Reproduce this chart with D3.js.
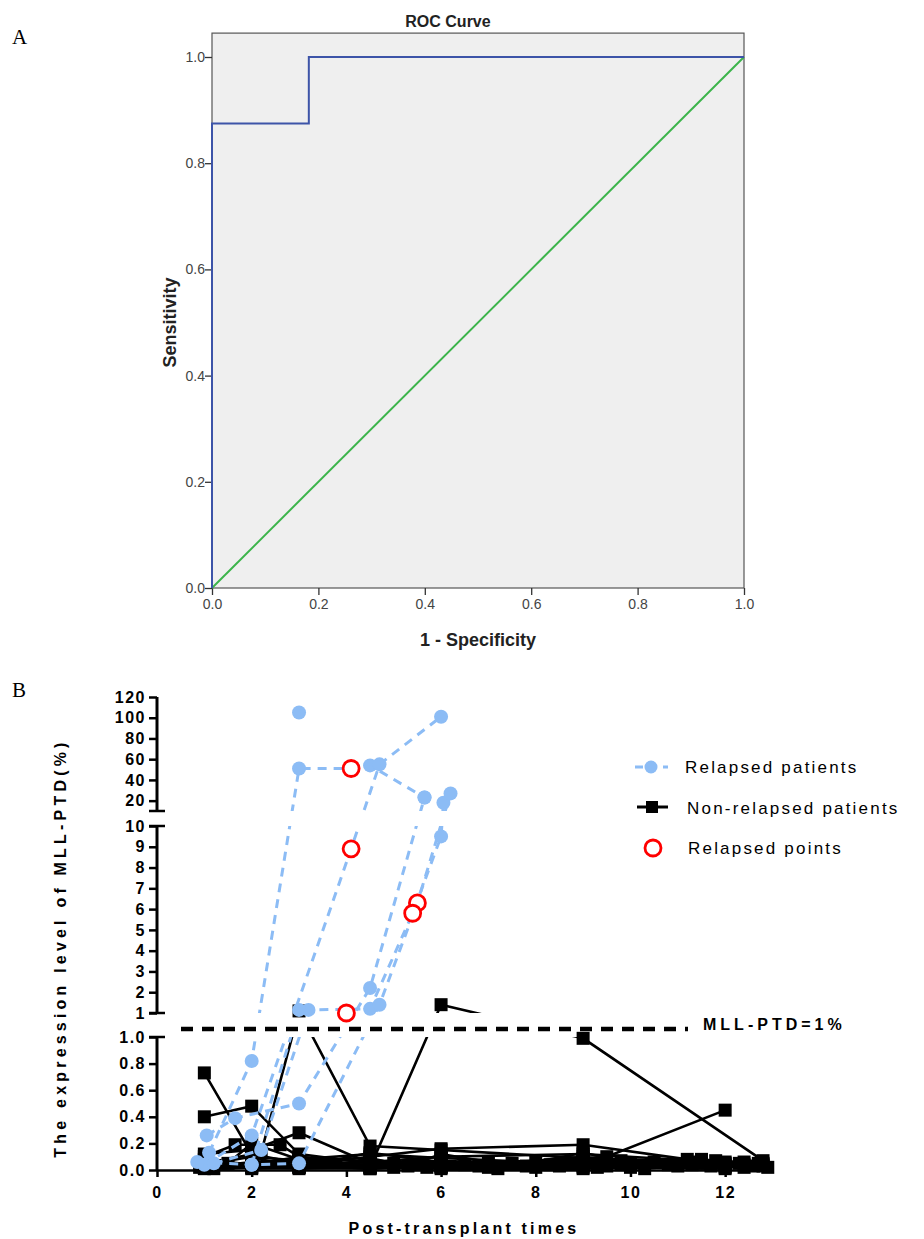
<!DOCTYPE html>
<html>
<head>
<meta charset="utf-8">
<script src="https://cdn.jsdelivr.net/npm/d3@7/dist/d3.min.js"></script>
<style>
  body { margin: 0; background: #fff; }
  svg { display: block; }
</style>
</head>
<body>
<svg id="fig" width="924" height="1239"></svg>
<script>
// ---- panel A: ROC curve ----
const rocFpr = [0, 0, 0.182, 0.182, 1];
const rocTpr = [0, 0.875, 0.875, 1, 1];
const refFpr = [0, 1];
const refTpr = [0, 1];
const rocTicks = [0, 0.2, 0.4, 0.6, 0.8, 1.0];

// ---- panel B: MLL-PTD follow-up, [month, level %] ----
const r1 = [[1.1, 0.13], [2.0, 0.82], [3.0, 51], [4.1, 51], [4.5, 54], [5.65, 23]];
const r2 = [[1.0, 0.04], [2.0, 0.26], [4.1, 8.9], [4.7, 55], [6.0, 101]];
const r3 = [[1.05, 0.26], [1.65, 0.39], [3.0, 0.5], [4.5, 2.2], [5.65, 23]];
const r4 = [[1.2, 0.05], [2.2, 0.15], [3.2, 1.15], [4.5, 1.2], [5.4, 5.8], [6.0, 9.5], [6.05, 18]];
const r5 = [[0.85, 0.06], [2.0, 0.04], [3.0, 0.05], [4.7, 1.4], [5.5, 6.3], [6.2, 27]];
const r6 = [[2.0, 0.04], [3.0, 1.15]];
const r7 = [[3.0, 105]];
const relapsed = [r1, r2, r3, r4, r5, r6, r7];

const n1 = [[1, 0.73], [2, 0.12], [3, 0.05], [4.5, 0.03], [6, 0.05], [9, 0.04], [12, 0.03]];
const n2 = [[1, 0.40], [2, 0.48], [3, 0.12], [4.5, 0.05], [6, 0.04], [9, 0.06], [11.5, 0.05]];
const n3 = [[1, 0.12], [2, 0.15], [3, 0.28], [4.5, 0.05], [6, 0.06], [9, 0.05], [12.4, 0.04]];
const n4 = [[1, 0.05], [2.2, 0.13], [3, 1.1], [4.5, 0.18], [6, 0.15], [9, 0.09], [12.8, 0.05]];
const n5 = [[1.5, 0.05], [2, 0.2], [3, 0.08], [4.5, 0.02], [6, 1.4], [9, 0.99], [12.8, 0.07]];
const n6 = [[1, 0.03], [2, 0.05], [3, 0.04], [4.5, 0.1], [6, 0.16], [9, 0.19], [11.2, 0.08]];
const n7 = [[2, 0.07], [3, 0.03], [4.5, 0.04], [6, 0.03], [9.5, 0.1], [12, 0.45]];
const n8 = [[1, 0.1], [1.65, 0.19], [2.6, 0.19], [3, 0.1], [4.5, 0.03], [6, 0.02], [9, 0.02], [11.7, 0.03]];
const n9 = [[0.9, 0.02], [2, 0.03], [3, 0.02], [4.5, 0.01], [6, 0.03], [7, 0.02], [9, 0.03], [12, 0.02]];
const n10 = [[1, 0.02], [2, 0.06], [3, 0.06], [4.5, 0.04], [6, 0.02], [8.5, 0.03], [12.4, 0.02]];
const n11 = [[1.2, 0.01], [2, 0.02], [3, 0.01], [4.5, 0.02], [5.5, 0.04], [9, 0.07], [12, 0.06]];
const n12 = [[2, 0.09], [3, 0.03], [4.5, 0.06], [6, 0.1], [9, 0.12], [12.8, 0.04]];
const n13 = [[1, 0.06], [2, 0.01], [3, 0.02], [4.5, 0.07], [6, 0.05], [9.8, 0.04], [11.3, 0.06]];
const n14 = [[1, 0.01], [3, 0.03], [4.5, 0.02], [6, 0.01], [9, 0.01], [10, 0.02], [12, 0.01]];
const n15 = [[1, 0.04], [2, 0.1], [3, 0.07], [4.5, 0.09], [5, 0.05], [6, 0.07], [7.5, 0.05], [9, 0.08], [10.5, 0.06], [12, 0.05], [12.6, 0.03]];
const n16 = [[2, 0.02], [3, 0.08], [4.5, 0.12], [6, 0.09], [8, 0.06], [9, 0.13], [9.8, 0.07], [11.3, 0.04], [12.8, 0.03]];
const n17 = [[1, 0.08], [2, 0.04], [3, 0.1], [4.5, 0.06], [5.3, 0.03], [6, 0.12], [7, 0.06], [8.3, 0.04], [9, 0.05], [11.8, 0.07], [12.4, 0.06]];
const n18 = [[3, 0.04], [4.5, 0.01], [5, 0.02], [6, 0.04], [7.2, 0.01], [8, 0.02], [9.5, 0.03], [10.3, 0.01], [11, 0.03], [12, 0.04], [12.9, 0.02]];
const n19 = [[2, 0.05], [3, 0.02], [4.5, 0.13], [6, 0.06], [6.8, 0.03], [9, 0.1], [10, 0.05], [11.5, 0.08], [12.3, 0.05]];
const n20 = [[4.5, 0.08], [5.7, 0.02], [6.5, 0.04], [7.8, 0.03], [8.8, 0.05], [9.3, 0.02], [10.8, 0.04], [12, 0.03], [12.7, 0.05]];
const nonRelapsed = [n1, n2, n3, n4, n5, n6, n7, n8, n9, n10, n11, n12, n13, n14, n15, n16, n17, n18, n19, n20];

const relapsePoints = [[4.1, 51], [4.1, 8.9], [5.5, 6.3], [5.4, 5.8], [4.0, 1.0]];

const xTicksB = [0, 2, 4, 6, 8, 10, 12];
const yTicksTop = [20, 40, 60, 80, 100, 120];
const yTicksMid = [1, 2, 3, 4, 5, 6, 7, 8, 9, 10];
const yTicksLow = [0, 0.2, 0.4, 0.6, 0.8, 1.0];
const cutoff = 1;

const svg = d3.select("#fig");
const axisFont = "Arial, 'Liberation Sans', sans-serif";

// ================= Panel A =================
const xA = d3.scaleLinear().domain([0, 1]).range([212, 744]);
const yA = d3.scaleLinear().domain([0, 1]).range([588, 57]);

svg.append("text").attr("x", 12).attr("y", 44)
    .attr("font-family", "'Liberation Serif', 'DejaVu Serif', serif")
    .attr("font-size", 21).text("A");

svg.append("rect")
    .attr("x", xA(0)).attr("y", yA(1.045))
    .attr("width", xA(1) - xA(0)).attr("height", yA(0) - yA(1.045))
    .attr("fill", "#efefef").attr("stroke", "#555").attr("stroke-width", 1.2);

svg.append("text").attr("x", 448).attr("y", 27)
    .attr("text-anchor", "middle").attr("font-family", "'Liberation Sans Narrow', " + axisFont)
    .attr("font-weight", "bold").attr("font-size", 16).attr("fill", "#222")
    .text("ROC Curve");

const gAy = svg.append("g").attr("transform", `translate(${xA(0)},0)`)
    .call(d3.axisLeft(yA).tickValues(rocTicks).tickFormat(d3.format(".1f")).tickSize(7).tickSizeOuter(0));
const gAx = svg.append("g").attr("transform", `translate(0,${yA(0)})`)
    .call(d3.axisBottom(xA).tickValues(rocTicks).tickFormat(d3.format(".1f")).tickSize(7).tickSizeOuter(0));
[gAy, gAx].forEach(g => {
    g.select(".domain").remove();
    g.selectAll("line").attr("stroke", "#333").attr("stroke-width", 1.3);
    g.selectAll("text").attr("font-family", axisFont).attr("font-size", 14).attr("fill", "#444");
});
gAy.selectAll("text").attr("x", -7);
gAx.selectAll("text").attr("y", 11);

const lineA = d3.line().x(d => xA(d[0])).y(d => yA(d[1]));
svg.append("path").datum(refFpr.map((f, i) => [f, refTpr[i]]))
    .attr("d", lineA).attr("fill", "none").attr("stroke", "#3cb44b").attr("stroke-width", 2);
svg.append("path").datum(rocFpr.map((f, i) => [f, rocTpr[i]]))
    .attr("d", lineA).attr("fill", "none").attr("stroke", "#3d54a8").attr("stroke-width", 2);

svg.append("text").attr("transform", `translate(176,${yA(0.5)}) rotate(-90)`)
    .attr("text-anchor", "middle").attr("font-family", "'Liberation Sans Narrow', " + axisFont)
    .attr("font-weight", "bold").attr("font-size", 18).attr("fill", "#222").text("Sensitivity");
svg.append("text").attr("x", xA(0.5)).attr("y", 646)
    .attr("text-anchor", "middle").attr("font-family", "'Liberation Sans Narrow', " + axisFont)
    .attr("font-weight", "bold").attr("font-size", 18).attr("fill", "#222").text("1 - Specificity");

// ================= Panel B =================
const xB = d3.scaleLinear().domain([0, 13]).range([157, 772.5]);
const yTop = d3.scaleLinear().domain([10, 120]).range([811, 697]);
const yMid = d3.scaleLinear().domain([1, 10]).range([1013, 826]);
const yLow = d3.scaleLinear().domain([0, 1]).range([1170, 1037]);
const yB = v => v < 1 ? yLow(v) : (v <= 10 ? yMid(v) : yTop(v));

svg.append("text").attr("x", 12).attr("y", 697)
    .attr("font-family", "'Liberation Serif', 'DejaVu Serif', serif")
    .attr("font-size", 21).text("B");

// clip lines to the three axis segments (gaps hide the crossing)
const clip = svg.append("defs").append("clipPath").attr("id", "segs");
[[640, 811], [826, 1013], [1037, 1185]].forEach(([a, b]) => {
    clip.append("rect").attr("x", 150).attr("y", a).attr("width", 640).attr("height", b - a);
});

// y axis segments
function segAxis(scale, ticks, fmt, y0, y1) {
    const g = svg.append("g").attr("transform", `translate(${xB(0)},0)`)
        .call(d3.axisLeft(scale).tickValues(ticks).tickFormat(fmt).tickSize(8).tickSizeOuter(0));
    g.select(".domain").remove();
    g.selectAll("line").attr("stroke", "#000").attr("stroke-width", 2.5);
    g.selectAll("text").attr("x", -11).attr("font-family", axisFont).attr("font-weight", "bold")
        .attr("font-size", 16).attr("letter-spacing", 1.5).attr("fill", "#000");
    svg.append("line").attr("x1", xB(0)).attr("x2", xB(0)).attr("y1", y0).attr("y2", y1)
        .attr("stroke", "#000").attr("stroke-width", 3);
    return g;
}
segAxis(yTop, yTicksTop, d3.format("d"), 697, 811);
segAxis(yMid, yTicksMid, d3.format("d"), 826, 1013);
segAxis(yLow, yTicksLow, d3.format(".1f"), 1037, 1171);
// break caps
[811, 826, 1013, 1037].forEach(y => {
    svg.append("line").attr("x1", xB(0) - 8).attr("x2", xB(0) + 8).attr("y1", y).attr("y2", y)
        .attr("stroke", "#000").attr("stroke-width", 2.5);
});

// x axis
const gBx = svg.append("g").attr("transform", `translate(0,${yLow(0)})`)
    .call(d3.axisBottom(xB).tickValues(xTicksB).tickFormat(d3.format("d")).tickSize(7).tickSizeOuter(0));
gBx.select(".domain").attr("stroke-width", 2.5);
gBx.selectAll("line").attr("stroke-width", 2.5);
gBx.selectAll("text").attr("y", 17).attr("font-family", axisFont).attr("font-weight", "bold")
    .attr("font-size", 16).attr("letter-spacing", 1.5);

// threshold line
svg.append("line").attr("x1", 181).attr("x2", 688)
    .attr("y1", yLow(cutoff) - 8).attr("y2", yLow(cutoff) - 8)
    .attr("stroke", "#000").attr("stroke-width", 4.5).attr("stroke-dasharray", "12,9");
svg.append("text").attr("x", 703).attr("y", yLow(cutoff) - 7)
    .attr("font-family", axisFont).attr("font-weight", "bold").attr("font-size", 16)
    .attr("letter-spacing", 4).text("MLL-PTD=1%");

const lineB = d3.line().x(d => xB(d[0])).y(d => yB(d[1]));
const blue = "#8cbcf5";

// non-relapsed patients
const gN = svg.append("g");
gN.selectAll("path").data(nonRelapsed).enter().append("path")
    .attr("d", lineB).attr("fill", "none").attr("stroke", "#000").attr("stroke-width", 2.6)
    .attr("clip-path", "url(#segs)");
gN.selectAll("rect").data(nonRelapsed.flat()).enter().append("rect")
    .attr("x", d => xB(d[0]) - 6.5).attr("y", d => yB(d[1]) - 6.5)
    .attr("width", 13).attr("height", 13).attr("fill", "#000");

// relapsed patients
const gR = svg.append("g");
gR.selectAll("path").data(relapsed).enter().append("path")
    .attr("d", lineB).attr("fill", "none").attr("stroke", blue).attr("stroke-width", 3)
    .attr("stroke-dasharray", "9,7").attr("clip-path", "url(#segs)");
gR.selectAll("circle").data(relapsed.flat()).enter().append("circle")
    .attr("cx", d => xB(d[0])).attr("cy", d => yB(d[1])).attr("r", 7).attr("fill", blue);

// relapse points
svg.append("g").selectAll("circle").data(relapsePoints).enter().append("circle")
    .attr("cx", d => xB(d[0])).attr("cy", d => yB(d[1])).attr("r", 8)
    .attr("fill", "#fff").attr("stroke", "#ff0000").attr("stroke-width", 2.8);

// axis titles
svg.append("text").attr("transform", "translate(66,948) rotate(-90)")
    .attr("text-anchor", "middle").attr("font-family", axisFont).attr("font-weight", "bold")
    .attr("font-size", 16).attr("letter-spacing", 4.2).text("The expression level of MLL-PTD(%)");
svg.append("text").attr("x", 464).attr("y", 1234)
    .attr("text-anchor", "middle").attr("font-family", axisFont).attr("font-weight", "bold")
    .attr("font-size", 16).attr("letter-spacing", 3.2).text("Post-transplant times");

// legend
const lg = svg.append("g").attr("font-family", axisFont).attr("font-size", 17).attr("letter-spacing", 2.2);
lg.append("line").attr("x1", 635).attr("x2", 668).attr("y1", 767).attr("y2", 767)
    .attr("stroke", blue).attr("stroke-width", 3).attr("stroke-dasharray", "8,6");
lg.append("circle").attr("cx", 651).attr("cy", 767).attr("r", 6.5).attr("fill", blue);
lg.append("text").attr("x", 685).attr("y", 773).text("Relapsed patients");
lg.append("line").attr("x1", 637).attr("x2", 668).attr("y1", 807).attr("y2", 807)
    .attr("stroke", "#000").attr("stroke-width", 3);
lg.append("rect").attr("x", 646).attr("y", 801).attr("width", 12).attr("height", 12).attr("fill", "#000");
lg.append("text").attr("x", 687).attr("y", 814).text("Non-relapsed patients");
lg.append("circle").attr("cx", 653).attr("cy", 848).attr("r", 8)
    .attr("fill", "#fff").attr("stroke", "#ff0000").attr("stroke-width", 2.8);
lg.append("text").attr("x", 688).attr("y", 854).text("Relapsed points");
</script>
</body>
</html>
